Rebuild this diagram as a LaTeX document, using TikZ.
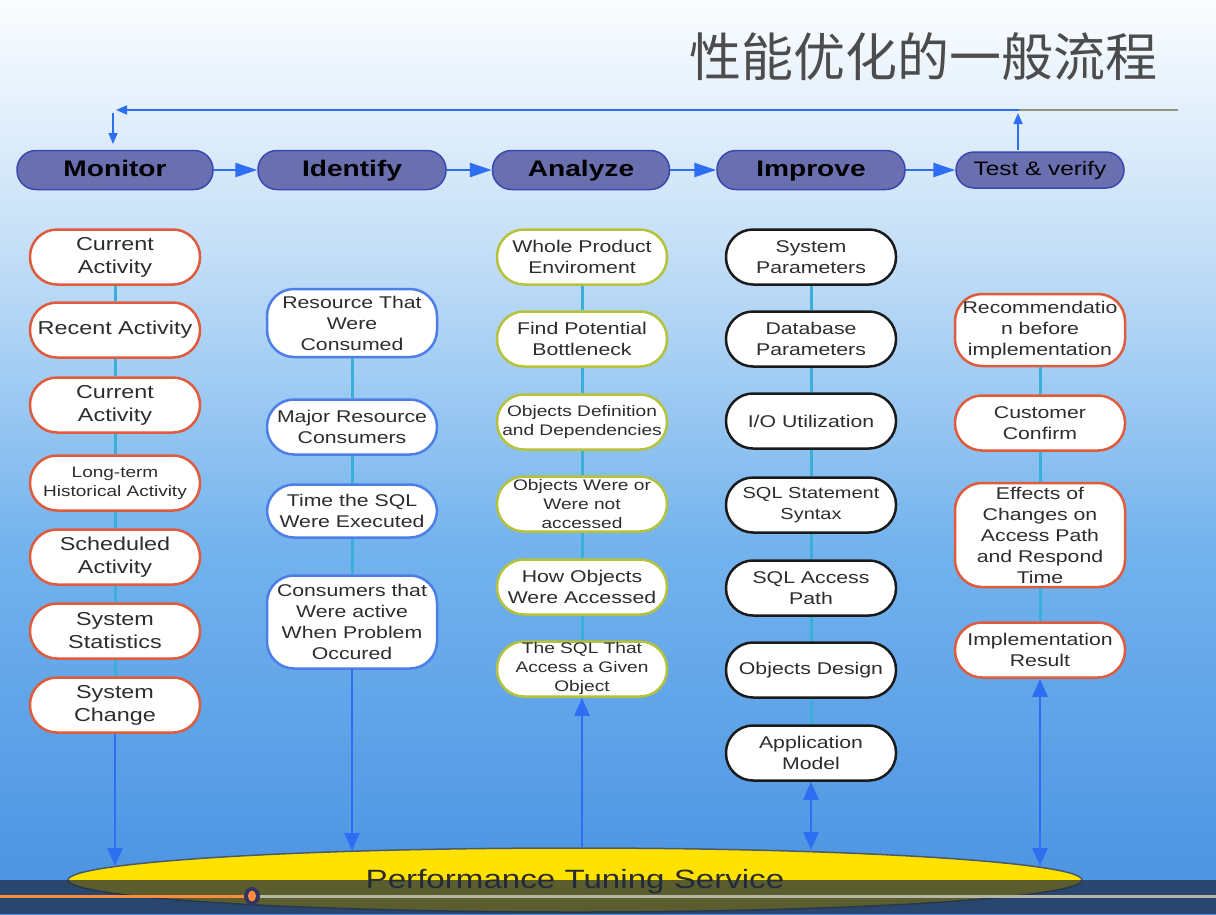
\documentclass[tikz,border=0pt]{standalone}
\usepackage{fontspec}
\setmainfont{Liberation Sans}[FakeStretch=1.25]
\newfontfamily\cjk{Noto Sans CJK SC}
\usetikzlibrary{arrows.meta,shapes.geometric}
\definecolor{hdrF}{RGB}{106,111,176}
\definecolor{hdrB}{RGB}{56,72,176}
\definecolor{redB}{RGB}{224,90,60}
\definecolor{bluB}{RGB}{77,126,232}
\definecolor{grnB}{RGB}{181,194,58}
\definecolor{blkB}{RGB}{26,26,26}
\definecolor{conn}{RGB}{58,175,217}
\definecolor{arr}{RGB}{46,110,242}
\definecolor{txt}{RGB}{45,45,45}
\definecolor{yel}{RGB}{255,226,0}
\definecolor{ellB}{RGB}{74,90,106}
\definecolor{barD}{RGB}{28,42,66}
\definecolor{prog}{RGB}{255,140,58}
\definecolor{rail}{RGB}{181,181,168}
\pgfdeclareverticalshading{bgshade}{100bp}{rgb(0bp)=(0.19,0.49,0.84); rgb(4bp)=(0.20,0.50,0.85); rgb(23bp)=(0.27,0.56,0.88); rgb(45bp)=(0.45,0.70,0.93); rgb(62bp)=(0.78,0.88,0.97); rgb(76bp)=(1,1,1); rgb(100bp)=(1,1,1)}
\tikzset{
  hdr/.style={draw=hdrB, line width=1.5pt, fill=hdrF, rounded corners=19pt, minimum height=39pt, inner sep=0pt, text=black, text height=16pt, text depth=4pt, font=\bfseries\fontsize{22.5}{27}\selectfont},
  box/.style={draw, line width=2.5pt, fill=white, rounded corners=27pt, minimum width=170pt, minimum height=55pt, inner sep=0pt, align=center, text=txt},
  mbox/.style={box, draw=redB, font=\fontsize{18.7}{23}\selectfont},
  ibox/.style={box, draw=bluB, font=\fontsize{17}{21}\selectfont},
  abox/.style={box, draw=grnB, font=\fontsize{17}{21}\selectfont},
  asml/.style={font=\fontsize{15.3}{19}\selectfont},
  pbox/.style={box, draw=blkB, font=\fontsize{17}{21}\selectfont},
  tbox/.style={box, draw=redB, font=\fontsize{17}{21}\selectfont},
  link/.style={draw=conn, line width=3pt},
  harr/.style={draw=arr, line width=2.5pt, -{Triangle[length=22pt,width=14pt]}},
  varr/.style={draw=arr, line width=2.5pt, -{Triangle[length=18pt,width=15pt]}},
  darr/.style={draw=arr, line width=2.5pt, {Triangle[length=18pt,width=15pt]}-{Triangle[length=18pt,width=15pt]}},
  sarr/.style={draw=arr, line width=1.5pt, -{Triangle[length=11pt,width=9pt]}}
}
\begin{document}
\begin{tikzpicture}[x=1pt,y=-1pt]
\useasboundingbox (0,0) rectangle (1216,914);
\shade[shading=bgshade] (0,0) rectangle (1216,914);

% title
\node[text=txt!85!white, font=\cjk\fontsize{52}{60}\selectfont] (title) at (923,57) {性能优化的一般流程};

% loop line
\coordinate (loopR) at (1178,110);
\coordinate (loopM) at (1019,110);
\coordinate (loopL) at (116,110);
\coordinate (dnTop) at (113,113);
\coordinate (dnEnd) at (113,144);
\coordinate (upStart) at (1018,150);
\coordinate (upEnd) at (1018,113);
\draw[draw=rail!80!black, line width=1.5pt] (loopR) -- (loopM);
\draw[sarr] (loopM) -- (loopL);
\draw[sarr] (dnTop) -- (dnEnd);
\draw[sarr] (upStart) -- (upEnd);

% headers
\node[hdr, minimum width=196pt] (h1) at (115,170) {Monitor};
\node[hdr, minimum width=188pt] (h2) at (352,170) {Identify};
\node[hdr, minimum width=177pt] (h3) at (581,170) {Analyze};
\node[hdr, minimum width=188pt] (h4) at (811,170) {Improve};
\node[hdr, minimum width=168pt, minimum height=36pt, rounded corners=18pt, text height=14pt, text depth=4pt, font=\fontsize{19.5}{24}\selectfont] (h5) at (1040,170) {Test \& verify};
\draw[harr] (h1) -- (h2);
\draw[harr] (h2) -- (h3);
\draw[harr] (h3) -- (h4);
\draw[harr] (h4) -- (h5);

% Monitor column
\node[mbox] (m1) at (115,257) {Current\\Activity};
\node[mbox] (m2) at (115,330) {Recent Activity};
\node[mbox] (m3) at (115,405) {Current\\Activity};
\node[mbox, font=\fontsize{15.2}{19}\selectfont] (m4) at (115,483) {Long-term\\Historical Activity};
\node[mbox] (m5) at (115,557) {Scheduled\\Activity};
\node[mbox] (m6) at (115,631) {System\\Statistics};
\node[mbox] (m7) at (115,705) {System\\Change};
\draw[link] (m1) -- (m2);
\draw[link] (m2) -- (m3);
\draw[link] (m3) -- (m4);
\draw[link] (m4) -- (m5);
\draw[link] (m5) -- (m6);
\draw[link] (m6) -- (m7);

% Identify column
\node[ibox, minimum height=68pt] (i1) at (352,323) {Resource That\\Were\\Consumed};
\node[ibox] (i2) at (352,427) {Major Resource\\Consumers};
\node[ibox, minimum height=53pt] (i3) at (352,511) {Time the SQL\\Were Executed};
\node[ibox, minimum height=93pt] (i4) at (352,622) {Consumers that\\Were active\\When Problem\\Occured};
\draw[link] (i1) -- (i2);
\draw[link] (i2) -- (i3);
\draw[link] (i3) -- (i4);

% Analyze column
\node[abox] (a1) at (582,257) {Whole Product\\Enviroment};
\node[abox] (a2) at (582,339) {Find Potential\\Bottleneck};
\node[abox, asml] (a3) at (582,422) {Objects Definition\\and Dependencies};
\node[abox, asml] (a4) at (582,504) {Objects Were or\\Were not\\accessed};
\node[abox] (a5) at (582,587) {How Objects\\Were Accessed};
\node[abox, asml] (a6) at (582,669) {The SQL That\\Access a Given\\Object};
\draw[link] (a1) -- (a2);
\draw[link] (a2) -- (a3);
\draw[link] (a3) -- (a4);
\draw[link] (a4) -- (a5);
\draw[link] (a5) -- (a6);

% Improve column
\node[pbox] (p1) at (811,257) {System\\Parameters};
\node[pbox] (p2) at (811,339) {Database\\Parameters};
\node[pbox] (p3) at (811,421) {I/O Utilization};
\node[pbox, font=\fontsize{16}{21}\selectfont] (p4) at (811,505) {SQL Statement\\Syntax};
\node[pbox] (p5) at (811,588) {SQL Access\\Path};
\node[pbox] (p6) at (811,670) {Objects Design};
\node[pbox] (p7) at (811,753) {Application\\Model};
\draw[link] (p1) -- (p2);
\draw[link] (p2) -- (p3);
\draw[link] (p3) -- (p4);
\draw[link] (p4) -- (p5);
\draw[link] (p5) -- (p6);
\draw[link] (p6) -- (p7);

% Test column
\node[tbox, minimum height=72pt] (t1) at (1040,330) {Recommendatio\\n before\\implementation};
\node[tbox] (t2) at (1040,423) {Customer\\Confirm};
\node[tbox, minimum height=104pt] (t3) at (1040,535) {Effects of\\Changes on\\Access Path\\and Respond\\Time};
\node[tbox] (t4) at (1040,650) {Implementation\\Result};
\draw[link] (t1) -- (t2);
\draw[link] (t2) -- (t3);
\draw[link] (t3) -- (t4);

% bottom ellipse
\node[ellipse, draw=ellB, line width=1.5pt, fill=yel, minimum width=1014pt, minimum height=64pt, inner sep=0pt] (pts) at (575,880) {};
\node[text=txt, font=\fontsize{26.5}{30}\selectfont] (ptsT) at (575,882) {Performance Tuning Service};
\coordinate (e1) at (115,866);
\coordinate (e2) at (352,851);
\coordinate (e3) at (582,848);
\coordinate (e4) at (811,850);
\coordinate (e5) at (1040,866);
\draw[varr] (m7) -- (e1);
\draw[varr] (i4) -- (e2);
\draw[varr] (e3) -- (a6);
\draw[darr] (p7) -- (e4);
\draw[darr] (t4) -- (e5);

% video player bar overlay
\fill[barD, opacity=0.72] (0,880) rectangle (1216,914);
\coordinate (pg0) at (0,896);
\coordinate (pgK) at (252,896);
\coordinate (pg1) at (1216,896);
\draw[prog, line width=3pt] (pg0) -- (pgK);
\draw[rail, line width=3pt] (pgK) -- (pg1);
\fill[black!70!blue!60!gray] (pgK) ellipse (8pt and 9pt);
\fill[prog] (pgK) ellipse (4pt and 5.5pt);
\end{tikzpicture}
\end{document}
